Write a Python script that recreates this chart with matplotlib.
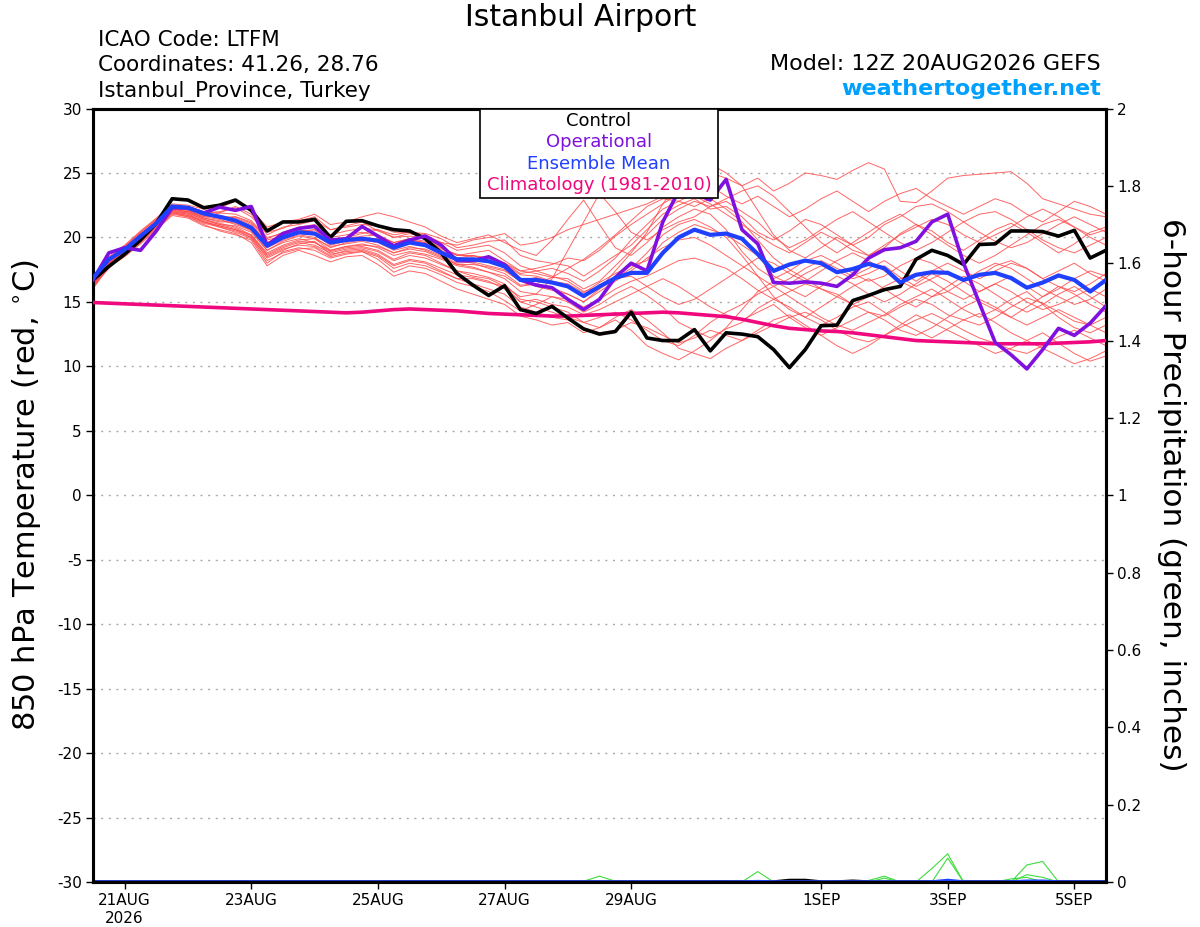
import numpy as np
import pandas as pd
import matplotlib
matplotlib.use('Agg')
import matplotlib.pyplot as plt

plt.rcParams['font.family'] = ['DejaVu Sans']

# ── Data (6-hourly, 12Z 20AUG2026 -> 12Z 5SEP2026) ──
times = pd.date_range('2026-08-20 12:00', periods=65, freq='6h')

control = [16.7, 17.75, 18.7, 19.8, 21.1, 23.0, 22.9, 22.3, 22.5, 22.9, 22.1, 20.5, 21.2,
           21.2, 21.4, 20.0, 21.25, 21.3, 20.9, 20.6, 20.5, 19.9, 18.8, 17.2, 16.3, 15.5,
           16.25, 14.4, 14.1, 14.65, 13.75, 12.9, 12.5, 12.7, 14.2, 12.2, 12.0, 12.0, 12.85,
           11.2, 12.6, 12.5, 12.3, 11.3, 9.9, 11.3, 13.15, 13.2, 15.1, 15.5, 15.95, 16.2,
           18.3, 19.0, 18.6, 17.9, 19.45, 19.5, 20.5, 20.5, 20.45, 20.1, 20.55, 18.4, 19.0]

operational = [16.7, 18.8, 19.2, 19.0, 20.5, 22.3, 22.3, 21.9, 22.35, 22.1, 22.4, 19.4, 20.3,
               20.7, 20.85, 19.8, 19.9, 20.85, 20.1, 19.35, 19.8, 20.1, 19.4, 18.2, 18.2, 18.5,
               17.9, 16.7, 16.3, 16.1, 15.2, 14.4, 15.2, 16.9, 18.0, 17.4, 21.2, 23.6, 23.4,
               22.9, 24.5, 20.6, 19.5, 16.5, 16.45, 16.55, 16.45, 16.2, 17.1, 18.4, 19.05, 19.2,
               19.7, 21.2, 21.8, 18.0, 14.9, 11.85, 10.9, 9.8, 11.3, 12.95, 12.4, 13.35, 14.7]

ens_mean = [16.85, 18.3, 19.05, 20.1, 21.1, 22.4, 22.3, 21.85, 21.6, 21.3, 20.75, 19.35, 20.0,
            20.4, 20.3, 19.6, 19.8, 19.9, 19.75, 19.2, 19.6, 19.4, 18.8, 18.3, 18.3, 18.15,
            17.75, 16.7, 16.7, 16.5, 16.2, 15.45, 16.2, 16.85, 17.25, 17.25, 18.8, 20.0, 20.6,
            20.2, 20.3, 19.9, 18.7, 17.4, 17.9, 18.2, 18.0, 17.3, 17.55, 17.95, 17.6, 16.5,
            17.1, 17.3, 17.25, 16.7, 17.1, 17.25, 16.85, 16.1, 16.5, 17.05, 16.7, 15.8, 16.7]

climatology = [14.95, 14.9, 14.85, 14.8, 14.75, 14.7, 14.65, 14.6, 14.55, 14.5, 14.45, 14.4, 14.35,
               14.3, 14.25, 14.2, 14.15, 14.2, 14.3, 14.4, 14.45, 14.4, 14.35, 14.3, 14.2, 14.1,
               14.05, 14.0, 13.95, 13.9, 13.9, 13.95, 14.0, 14.05, 14.1, 14.15, 14.2, 14.15, 14.05,
               13.95, 13.85, 13.65, 13.4, 13.15, 12.95, 12.85, 12.75, 12.7, 12.6, 12.45, 12.3, 12.15,
               12.0, 11.95, 11.9, 11.85, 11.8, 11.75, 11.75, 11.75, 11.75, 11.8, 11.85, 11.9, 12.0]

members = [
    [16.4, 18.0, 19.2, 20.3, 21.2, 22.1, 22.0, 21.6, 21.9, 22.4, 21.8, 20.2, 20.8,
     21.0, 21.3, 20.6, 20.9, 21.2, 20.5, 20.0, 20.3, 20.0, 19.2, 18.6, 18.8, 19.0,
     18.2, 17.4, 17.6, 17.9, 18.4, 18.2, 19.0, 20.1, 21.0, 21.8, 22.6, 23.4, 24.0,
     25.0, 24.6, 24.0, 24.6, 23.6, 24.2, 25.0, 24.8, 24.5, 25.2, 25.8, 25.3, 22.8,
     22.7, 23.6, 24.6, 24.8, 24.9, 25.0, 25.1, 24.2, 23.0, 22.6, 22.2, 21.8, 21.6],
    [16.0, 17.8, 18.9, 20.0, 21.0, 22.0, 21.8, 21.3, 21.0, 20.9, 20.4, 19.0, 19.6,
     19.9, 19.6, 19.0, 19.3, 19.5, 19.2, 18.6, 18.9, 18.7, 18.3, 17.8, 17.6, 17.3,
     17.0, 16.2, 16.4, 16.9, 17.6, 18.3, 19.2, 20.2, 21.3, 22.4, 23.0, 22.8, 22.4,
     23.0, 22.2, 21.2, 19.8, 18.4, 17.5, 16.8, 16.0, 15.6, 14.8, 14.2, 13.9, 14.6,
     15.2, 14.8, 14.0, 13.6, 13.2, 13.8, 14.6, 15.3, 14.9, 14.2, 13.5, 13.2, 13.8],
    [16.2, 17.6, 18.7, 19.7, 20.8, 21.9, 21.7, 21.2, 20.8, 20.5, 20.0, 18.4, 19.0,
     19.5, 19.7, 18.7, 18.9, 19.0, 18.6, 17.8, 18.2, 18.0, 17.4, 16.8, 16.4, 16.0,
     15.6, 14.6, 14.2, 13.8, 13.6, 13.0, 12.6, 12.8, 13.4, 13.0, 12.4, 11.8, 12.2,
     12.8, 12.4, 12.0, 12.6, 13.2, 13.8, 14.2, 13.6, 12.8, 12.2, 11.9, 12.4, 13.0,
     13.6, 14.1, 13.5, 12.8, 12.2, 11.8, 11.3, 11.0, 11.6, 12.3, 12.8, 12.2, 11.6],
    [16.8, 18.4, 19.3, 20.4, 21.4, 22.5, 22.4, 22.0, 21.9, 21.8, 21.3, 20.0, 20.3,
     20.7, 20.8, 20.0, 20.2, 20.4, 20.1, 19.6, 19.9, 19.5, 18.8, 18.2, 18.0, 17.6,
     17.2, 16.3, 16.4, 16.1, 15.6, 15.0, 16.0, 17.4, 18.8, 20.4, 22.6, 24.3, 25.2,
     25.7, 25.0, 24.0, 22.1, 20.2, 19.0, 18.4, 19.2, 20.0, 19.4, 18.6, 19.2, 20.3,
     21.0, 20.5, 19.6, 19.0, 19.8, 20.6, 21.1, 20.4, 19.6, 18.8, 19.5, 20.4, 20.8],
    [16.5, 18.1, 18.8, 19.8, 21.0, 22.3, 22.1, 21.6, 21.4, 21.0, 20.6, 19.2, 19.8,
     20.2, 20.0, 19.2, 19.6, 19.8, 19.9, 19.4, 19.7, 19.6, 19.0, 18.4, 18.6, 18.2,
     17.9, 17.1, 17.0, 16.6, 16.4, 15.7, 16.5, 17.2, 17.8, 18.2, 19.6, 20.4, 21.0,
     20.6, 20.2, 19.4, 18.6, 17.0, 16.4, 17.2, 17.8, 17.4, 16.8, 17.2, 17.8, 16.9,
     16.2, 16.8, 17.4, 16.6, 15.8, 16.4, 17.0, 16.2, 15.4, 16.0, 16.8, 17.4, 17.0],
    [16.3, 17.9, 18.6, 19.6, 20.7, 21.8, 21.6, 21.0, 20.5, 20.2, 19.8, 18.0, 18.9,
     19.2, 19.0, 18.4, 18.7, 18.9, 18.3, 17.3, 17.8, 17.6, 17.1, 16.5, 16.2, 15.8,
     15.1, 14.3, 14.8, 15.4, 15.0, 14.2, 14.8, 15.6, 16.2, 15.5, 14.6, 13.4, 12.8,
     12.2, 12.9, 13.4, 14.5, 15.2, 14.6, 13.8, 13.2, 13.8, 14.6, 15.0, 14.2, 13.4,
     12.8, 12.2, 12.9, 13.6, 14.1, 13.4, 12.6, 12.0, 11.4, 10.8, 10.2, 10.6, 11.2],
    [16.6, 18.2, 19.0, 20.2, 21.3, 22.2, 22.2, 21.8, 21.5, 21.6, 21.1, 19.8, 20.1,
     20.4, 20.6, 19.7, 20.0, 20.3, 20.6, 20.2, 20.4, 20.3, 19.9, 19.2, 19.4, 19.7,
     19.8, 18.6, 18.2, 18.0, 17.8, 17.0, 17.8, 18.6, 19.4, 20.6, 21.8, 22.5, 23.0,
     22.2, 22.4, 21.6, 20.4, 19.8, 20.5, 21.4, 21.0, 20.2, 19.4, 20.0, 21.0, 21.6,
     22.4, 22.6, 22.0, 21.2, 20.4, 19.7, 19.2, 19.6, 20.3, 21.0, 21.6, 21.0, 20.4],
    [16.9, 18.5, 19.4, 20.5, 21.5, 22.6, 22.5, 22.2, 22.3, 22.8, 22.2, 20.8, 21.2,
     21.4, 21.8, 21.0, 21.2, 21.6, 21.9, 21.6, 21.2, 20.8, 20.1, 19.6, 19.9, 20.2,
     19.6, 19.0, 18.6, 19.8, 21.4, 22.9, 21.0, 19.2, 18.6, 19.6, 20.8, 21.6, 22.2,
     21.8, 20.6, 18.9, 17.6, 16.8, 17.4, 18.2, 18.6, 18.0, 17.2, 16.6, 17.0, 17.8,
     18.4, 18.0, 17.2, 16.6, 17.0, 17.8, 18.2, 17.6, 16.8, 16.2, 15.8, 16.4, 17.2],
    [16.1, 17.7, 18.5, 19.5, 20.6, 21.7, 21.5, 20.9, 20.6, 20.3, 19.6, 17.8, 18.6,
     19.0, 18.6, 18.1, 18.5, 18.6, 17.9, 17.0, 17.4, 17.2, 16.6, 16.0, 15.6, 15.2,
     14.8, 13.9, 13.6, 13.2, 13.4, 12.6, 13.0, 13.8, 14.4, 13.6, 12.6, 11.4, 11.0,
     10.6, 11.4, 12.0, 12.8, 13.6, 14.0, 13.2, 12.4, 11.6, 11.0, 11.6, 12.4, 13.2,
     14.0, 13.4, 12.8, 12.2, 11.6, 11.0, 11.4, 12.0, 12.6, 11.8, 11.0, 10.4, 10.8],
    [16.7, 18.3, 19.1, 20.1, 21.1, 22.4, 22.3, 21.9, 21.7, 21.5, 21.0, 19.6, 20.2,
     20.6, 20.4, 19.8, 20.0, 20.0, 19.8, 19.3, 19.8, 19.6, 19.1, 18.7, 18.5, 18.4,
     18.0, 17.4, 17.2, 16.9, 16.8, 16.0, 16.6, 17.8, 19.0, 20.2, 21.4, 22.2, 22.8,
     22.4, 22.8, 22.0, 21.2, 20.0, 19.2, 19.8, 20.6, 21.4, 22.0, 21.2, 20.4, 19.6,
     19.0, 19.6, 20.4, 21.2, 21.8, 22.0, 21.4, 20.6, 19.8, 19.2, 18.8, 19.4, 20.0],
    [16.4, 17.9, 18.9, 19.9, 20.9, 22.0, 21.9, 21.4, 21.1, 20.8, 20.2, 18.8, 19.4,
     19.8, 19.9, 19.0, 19.3, 19.4, 19.3, 18.8, 19.1, 18.9, 18.4, 17.9, 17.7, 17.3,
     16.8, 15.8, 15.6, 15.4, 15.2, 14.6, 15.2, 16.0, 16.6, 17.0, 17.6, 18.2, 18.4,
     18.0, 17.6, 16.8, 15.9, 15.2, 15.8, 16.4, 16.0, 15.4, 14.8, 15.4, 16.2, 16.8,
     17.2, 16.6, 15.8, 15.2, 15.8, 16.4, 15.8, 15.0, 14.4, 14.8, 15.4, 16.0, 15.4],
    [16.6, 18.0, 19.0, 20.0, 21.0, 22.2, 22.0, 21.5, 21.2, 21.2, 20.8, 19.4, 19.9,
     20.3, 20.2, 19.4, 19.7, 19.8, 19.6, 19.0, 19.3, 19.0, 18.5, 17.9, 17.9, 17.7,
     17.4, 16.6, 16.9, 16.5, 16.2, 15.4, 16.0, 16.8, 17.6, 18.8, 20.2, 21.0, 21.4,
     20.8, 20.0, 18.6, 17.0, 15.4, 14.4, 13.8, 14.6, 15.4, 16.2, 16.8, 16.0, 15.2,
     14.6, 15.4, 16.2, 17.0, 16.4, 15.6, 14.8, 14.2, 14.8, 15.6, 16.2, 15.4, 14.6],
    [16.5, 18.2, 19.3, 20.4, 21.4, 22.5, 22.3, 21.9, 22.0, 22.3, 21.6, 20.4, 20.7,
     21.3, 21.6, 20.6, 20.8, 21.0, 20.9, 20.4, 20.4, 20.2, 19.6, 19.0, 19.2, 19.4,
     18.8, 17.8, 17.4, 17.0, 16.6, 15.8, 16.2, 16.8, 17.0, 16.2, 15.4, 14.8, 15.2,
     16.0, 16.8, 17.6, 18.4, 18.0, 17.2, 16.6, 17.4, 18.2, 18.8, 18.2, 17.4, 16.6,
     16.0, 15.4, 15.8, 16.6, 17.4, 18.0, 17.6, 16.8, 16.0, 15.4, 14.8, 15.2, 16.0],
    [16.3, 17.8, 18.7, 19.8, 20.9, 22.0, 21.8, 21.2, 20.9, 20.6, 20.2, 18.6, 19.2,
     19.6, 19.4, 18.8, 19.1, 19.2, 18.9, 18.2, 18.6, 18.4, 17.9, 17.4, 17.0, 16.8,
     16.2, 15.4, 15.6, 16.8, 19.0, 21.2, 23.4, 22.0, 20.4, 19.8, 20.6, 21.2, 21.6,
     22.4, 23.0, 23.6, 24.0, 23.2, 22.0, 20.8, 19.6, 18.8, 19.6, 20.4, 21.2, 21.8,
     21.0, 20.2, 19.4, 18.6, 18.0, 18.6, 19.4, 20.2, 21.0, 21.4, 20.8, 20.0, 19.4],
    [16.2, 17.7, 18.6, 19.6, 20.8, 21.9, 21.6, 21.1, 20.8, 20.4, 19.9, 18.2, 18.8,
     19.1, 19.2, 18.5, 18.8, 18.9, 18.5, 17.6, 18.0, 17.8, 17.3, 16.8, 16.8, 16.5,
     16.2, 15.0, 14.6, 14.2, 13.8, 13.4, 13.8, 14.2, 13.6, 12.8, 12.0, 11.6, 12.4,
     13.4, 14.2, 14.8, 15.6, 16.2, 15.4, 14.6, 13.8, 13.2, 12.8, 13.4, 14.0, 14.8,
     15.4, 16.0, 15.2, 14.4, 13.8, 14.4, 15.2, 15.8, 14.8, 13.8, 13.0, 12.6, 13.2],
    [16.7, 18.2, 19.2, 20.2, 21.3, 22.3, 22.2, 21.8, 21.6, 21.4, 20.9, 19.6, 20.0,
     20.5, 20.6, 19.6, 19.9, 20.1, 20.2, 19.6, 19.9, 19.7, 19.2, 18.6, 18.6, 18.4,
     18.0, 17.2, 17.4, 17.6, 17.2, 16.6, 17.4, 18.4, 19.8, 21.0, 22.2, 22.8, 23.4,
     24.0, 23.2, 22.6, 23.2, 22.4, 21.6, 22.2, 23.0, 23.6, 22.8, 22.0, 22.8, 23.4,
     23.8, 23.0, 22.4, 21.8, 22.4, 23.0, 22.6, 21.8, 21.2, 22.0, 22.8, 22.4, 21.8],
    [16.4, 18.0, 18.8, 19.9, 21.0, 22.1, 21.9, 21.4, 21.0, 20.7, 20.1, 18.7, 19.3,
     19.7, 19.6, 18.9, 19.2, 19.3, 19.0, 18.3, 18.8, 18.6, 18.0, 17.4, 17.2, 16.9,
     16.4, 15.2, 15.0, 14.6, 14.2, 13.4, 13.0, 13.6, 12.8, 11.6, 11.0, 10.5, 11.2,
     12.0, 13.0, 14.4, 15.8, 16.6, 16.0, 15.4, 16.2, 17.0, 16.4, 15.6, 15.0, 15.6,
     16.4, 17.2, 16.6, 15.8, 15.0, 14.4, 13.8, 14.6, 15.4, 16.2, 15.6, 14.8, 14.2],
    [16.6, 18.1, 19.1, 20.1, 21.2, 22.3, 22.1, 21.7, 21.5, 21.6, 21.2, 19.9, 20.4,
     20.8, 21.0, 20.2, 20.5, 20.7, 20.6, 20.0, 20.1, 20.0, 19.6, 19.4, 19.8, 20.0,
     20.3, 19.4, 19.6, 20.0, 20.6, 21.0, 21.4, 21.8, 22.2, 22.6, 23.2, 23.6, 23.2,
     22.6, 21.8, 21.0, 20.2, 19.4, 18.8, 19.6, 20.4, 19.8, 19.0, 18.6, 19.4, 20.2,
     20.8, 21.4, 21.0, 20.2, 19.6, 20.2, 20.8, 21.6, 22.2, 21.6, 20.8, 20.2, 20.6],
    [16.5, 17.9, 18.9, 20.0, 21.1, 22.2, 22.0, 21.5, 21.3, 21.1, 20.5, 19.0, 19.7,
     20.1, 19.9, 19.3, 19.5, 19.7, 19.4, 18.8, 19.2, 19.1, 18.6, 18.0, 18.1, 17.8,
     17.5, 16.6, 16.2, 15.9, 15.6, 15.0, 15.8, 16.6, 17.4, 18.4, 19.2, 19.8, 20.0,
     19.4, 18.6, 17.8, 17.0, 16.2, 16.8, 17.6, 18.2, 17.6, 17.0, 17.6, 18.2, 17.4,
     16.6, 17.4, 18.0, 17.4, 16.8, 17.4, 18.0, 17.6, 16.8, 17.4, 18.0, 17.2, 16.6],
    [16.3, 17.8, 18.8, 19.8, 20.9, 21.9, 21.7, 21.2, 20.9, 20.6, 20.0, 18.5, 19.1,
     19.4, 19.3, 18.6, 19.0, 19.1, 18.7, 17.9, 18.3, 18.1, 17.6, 17.1, 16.9, 16.6,
     16.0, 15.0, 15.2, 14.8, 14.6, 14.0, 14.4, 15.0, 15.6, 16.2, 16.8, 16.2, 15.4,
     14.6, 14.0, 13.6, 14.2, 14.8, 13.8, 13.0, 12.4, 13.0, 13.6, 14.2, 13.6, 12.8,
     12.4, 13.0, 13.8, 14.6, 15.2, 14.6, 13.8, 13.2, 13.8, 14.4, 13.8, 13.2, 12.6],
]

# 6-hour precipitation (inches), green = members
zeros = [0.0] * 65
precip_members = []
p = zeros.copy(); p[31] = 0.002; p[32] = 0.015; p[33] = 0.002; p[42] = 0.027; p[54] = 0.073; p[53] = 0.035; p[59] = 0.044; p[60] = 0.053
precip_members.append(p)
p = zeros.copy(); p[54] = 0.062; p[59] = 0.019; p[60] = 0.012; p[50] = 0.015; p[49] = 0.004
precip_members.append(p)
p = zeros.copy(); p[39] = 0.003; p[40] = 0.003; p[50] = 0.01; p[47] = 0.003; p[58] = 0.008; p[59] = 0.012
precip_members.append(p)
p = zeros.copy(); p[9] = 0.002; p[46] = 0.002; p[47] = 0.003; p[63] = 0.002; p[64] = 0.003
precip_members.append(p)
precip_control = zeros.copy(); precip_control[44] = 0.004; precip_control[45] = 0.004; precip_control[48] = 0.002
precip_mean = zeros.copy(); precip_mean[54] = 0.004; precip_mean[59] = 0.002; precip_mean[60] = 0.002; precip_mean[42] = 0.001

tick_dates = pd.to_datetime(['2026-08-21', '2026-08-23', '2026-08-25', '2026-08-27',
                             '2026-08-29', '2026-09-01', '2026-09-03', '2026-09-05'])
tick_labels = ['21AUG\n2026', '23AUG', '25AUG', '27AUG', '29AUG', '1SEP', '3SEP', '5SEP']
temp_ticks = list(range(-30, 31, 5))
precip_ticks = [0, 0.2, 0.4, 0.6, 0.8, 1, 1.2, 1.4, 1.6, 1.8, 2]

# ── Figure ──
fig = plt.figure(figsize=(12, 9.27), dpi=100)
ax = fig.add_axes([93 / 1200, 1 - 882 / 927, (1106 - 93) / 1200, (882 - 108.5) / 927])
ax2 = ax.twinx()

for m in members:
    ax.plot(times, m, color='#ff4a4a', linewidth=0.7, alpha=0.85, zorder=2)

for p in precip_members:
    ax2.plot(times, p, color='#3ddc3d', linewidth=0.8, zorder=3)
ax2.plot(times, precip_control, color='black', linewidth=2.5, zorder=4)
ax2.plot(times, precip_mean, color='#2040ff', linewidth=2.5, zorder=4)

ax.plot(times, climatology, color='#f0087f', linewidth=2.6, zorder=4)
ax.plot(times, control, color='black', linewidth=2.6, zorder=5)
ax.plot(times, operational, color='#8010e0', linewidth=2.6, zorder=6)
ax.plot(times, ens_mean, color='#2040ff', linewidth=3.0, zorder=7)

ax.set_xlim(times[0], times[-1])
ax.set_ylim(-30, 30)
ax2.set_ylim(0, 2)
ax.set_zorder(ax2.get_zorder() + 1)
ax.patch.set_visible(False)

for t in temp_ticks[1:-1]:
    ax.axhline(t, color='#aaaaaa', linewidth=1.0, linestyle=(0, (1.5, 4)), zorder=1)

ax.set_yticks(temp_ticks)
ax.set_yticklabels([str(t) for t in temp_ticks])
ax2.set_yticks(precip_ticks)
ax2.set_yticklabels(['%g' % t for t in precip_ticks])
ax.set_xticks(tick_dates)
ax.set_xticklabels(tick_labels)

ax.tick_params(axis='both', labelsize=11, length=5, width=1, direction='out', pad=3)
ax2.tick_params(axis='y', labelsize=11, length=5, width=1, direction='out', pad=3)

for a in (ax, ax2):
    for s in a.spines.values():
        s.set_linewidth(2.2)

ax.set_ylabel(r'850 hPa Temperature (red, $^{\circ}$C)', fontsize=22, labelpad=10)
ax2.set_ylabel('6-hour Precipitation (green, inches)', fontsize=22.5, rotation=270, labelpad=32)

# legend box
ax.add_patch(plt.Rectangle((0.382, 0.884), 0.235, 0.116, transform=ax.transAxes,
                           facecolor='white', edgecolor='black', linewidth=1.2, zorder=20))
legend_items = [('Control', 'black'), ('Operational', '#8010e0'),
                ('Ensemble Mean', '#2040ff'), ('Climatology (1981-2010)', '#f0087f')]
for k, (txt, col) in enumerate(legend_items):
    ax.text(0.4995, 0.9836 - k * 0.0275, txt, color=col, fontsize=13, ha='center', va='center',
            transform=ax.transAxes, zorder=21)

# header text
fig.text(581 / 1200, 1 - 18 / 927, 'Istanbul Airport', fontsize=21.5, ha='center', va='center')
fig.text(98 / 1200, 1 - 40 / 927, 'ICAO Code: LTFM', fontsize=15.5, ha='left', va='center')
fig.text(98 / 1200, 1 - 65 / 927, 'Coordinates: 41.26, 28.76', fontsize=15.5, ha='left', va='center')
fig.text(98 / 1200, 1 - 91 / 927, 'Istanbul_Province, Turkey', fontsize=15.5, ha='left', va='center')
fig.text(1101 / 1200, 1 - 64 / 927, 'Model: 12Z 20AUG2026 GEFS', fontsize=16, ha='right', va='center')
fig.text(1101 / 1200, 1 - 89 / 927, 'weathertogether.net', fontsize=16, fontweight='bold',
         color='#00a0ff', ha='right', va='center')

fig.savefig('out.png', dpi=100)
